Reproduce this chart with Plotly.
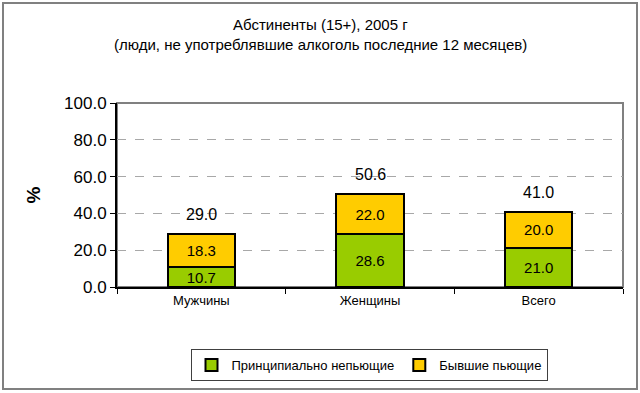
import plotly.graph_objects as go

categories = ["Мужчины", "Женщины", "Всего"]
never_drinkers = [10.7, 28.6, 21.0]
former_drinkers = [18.3, 22.0, 20.0]
totals = [29.0, 50.6, 41.0]
y_ticks = [0, 20, 40, 60, 80, 100]
series_names = ["Принципиально непьющие", "Бывшие пьющие"]

FONT = "Liberation Sans, Arial, Helvetica, sans-serif"
W, H = 640, 393
L, R, T, B = 117, 17, 103, 106
pw, ph = W - L - R, H - T - B

def px_x(x):
    return (x - L) / pw

def px_y(y):
    return (H - B - y) / ph

fig = go.Figure()
fig.add_bar(x=categories, y=never_drinkers, name=series_names[0],
            marker=dict(color="#99CC00", line=dict(color="black", width=2)),
            texttemplate="%{y:.1f}", textposition="inside", insidetextanchor="middle",
            textfont=dict(size=15, color="black", family=FONT))
fig.add_bar(x=categories, y=former_drinkers, name=series_names[1],
            marker=dict(color="#FFCC00", line=dict(color="black", width=2)),
            texttemplate="%{y:.1f}", textposition="inside", insidetextanchor="middle",
            textfont=dict(size=15, color="black", family=FONT))

annotations = []
for c, t in zip(categories, totals):
    annotations.append(dict(x=c, y=t, xref="x", yref="y", text=f"{t:.1f}", showarrow=False,
                            yshift=19, font=dict(size=16, color="black", family=FONT)))
annotations.append(dict(x=px_x(320), y=px_y(24), xref="paper", yref="paper",
                        xanchor="center", yanchor="middle",
                        text="Абстиненты (15+), 2005 г", showarrow=False,
                        font=dict(size=15, color="black", family=FONT)))
annotations.append(dict(x=px_x(320), y=px_y(45), xref="paper", yref="paper",
                        xanchor="center", yanchor="middle",
                        text="(люди, не употреблявшие алкоголь последние 12 месяцев)", showarrow=False,
                        font=dict(size=15, color="black", family=FONT)))

shapes = [
    dict(type="rect", xref="paper", yref="paper", x0=0, x1=1, y0=0, y1=1,
         line=dict(color="#808080", width=2), layer="below"),
    dict(type="rect", xref="paper", yref="paper", x0=px_x(3), x1=px_x(637), y0=px_y(3), y1=px_y(389),
         line=dict(color="#808080", width=2)),
]

fig.update_layout(
    width=W, height=H, barmode="stack", bargap=0.6,
    margin=dict(l=L, r=R, t=T, b=B, pad=0),
    paper_bgcolor="white", plot_bgcolor="white",
    font=dict(family=FONT, color="black"),
    annotations=annotations, shapes=shapes,
    uniformtext=dict(minsize=15, mode="show"),
    showlegend=True,
    legend=dict(orientation="h", x=px_x(369), xanchor="center", y=px_y(349), yanchor="top",
                bordercolor="#404040", borderwidth=1, bgcolor="white",
                font=dict(size=13, family=FONT, color="black"), traceorder="normal"),
    xaxis=dict(type="category", showline=True, linecolor="black", linewidth=2,
               ticks="outside", tickson="boundaries", ticklen=5, tickcolor="black",
               tickfont=dict(size=13, family=FONT), showgrid=False),
    yaxis=dict(range=[0, 100], tickvals=y_ticks, ticktext=[f"{v:.1f}" for v in y_ticks],
               showline=True, linecolor="black", linewidth=2,
               ticks="outside", ticklen=5, tickcolor="black",
               tickfont=dict(size=17, family=FONT),
               showgrid=True, gridcolor="#A8A8A8", griddash="dash", gridwidth=1,
               zeroline=False,
               title=dict(text="<b>%</b>", font=dict(size=19, family=FONT), standoff=18)),
)

fig.write_html("out.html", config={"displayModeBar": False},
               post_script="document.body.style.margin='0px';document.body.style.overflow='hidden';")
